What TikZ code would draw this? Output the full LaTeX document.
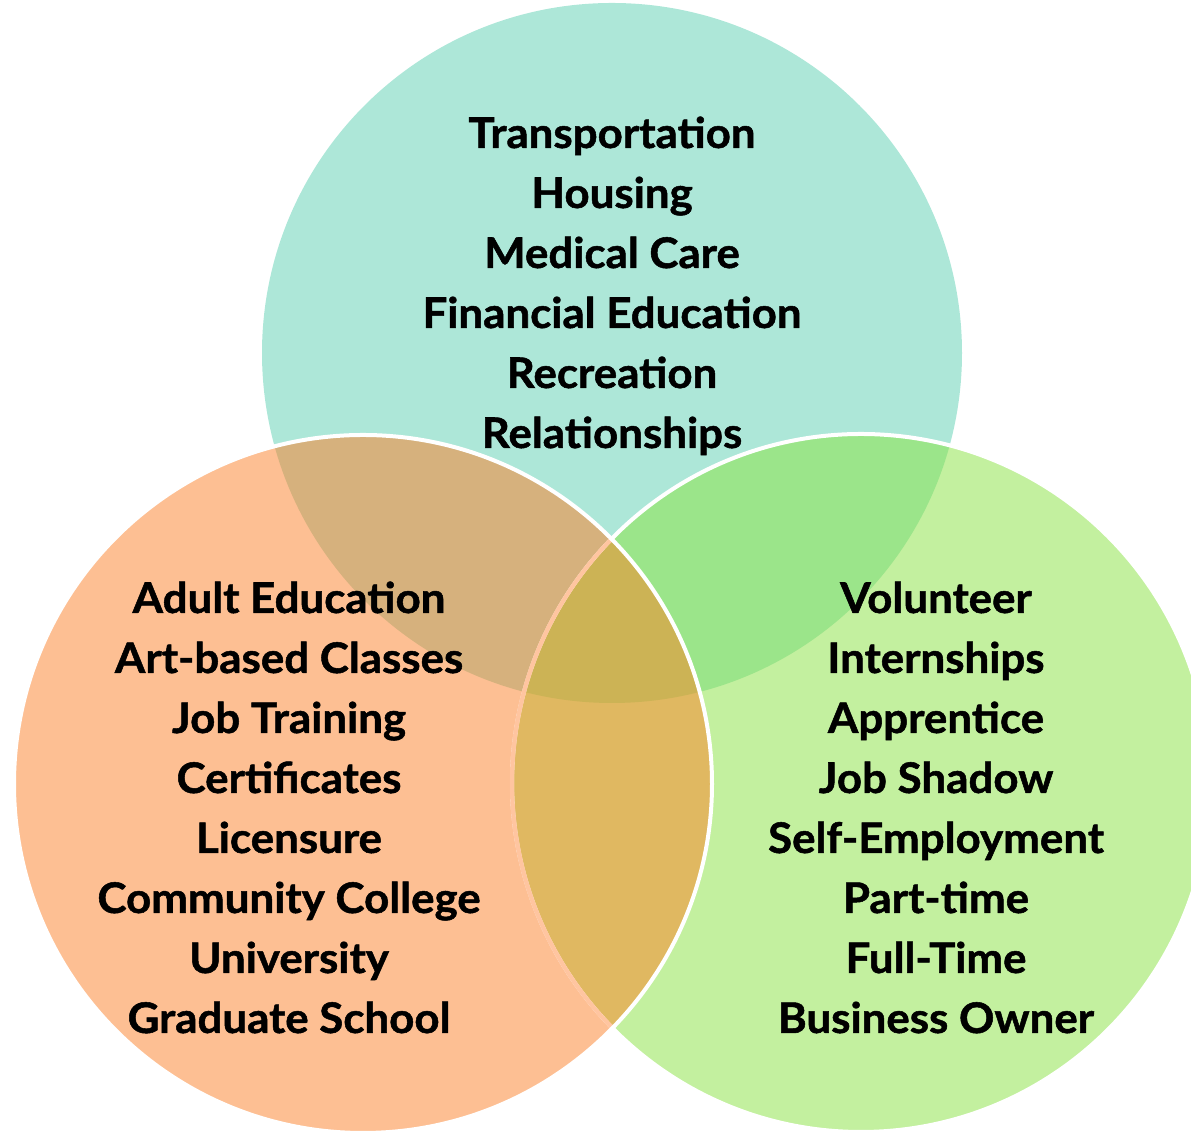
\documentclass[tikz,border=0pt]{standalone}
\usepackage{fontspec}
\setmainfont{Lato}[BoldFeatures={FakeStretch=1.04,FakeBold=1.2}]
\definecolor{cTop}{HTML}{ADE7D8}
\definecolor{cLeft}{HTML}{FDBF93}
\definecolor{cRight}{HTML}{C3F09F}
\definecolor{cTL}{HTML}{D6B17D}
\definecolor{cTR}{HTML}{9BE58A}
\definecolor{cLR}{HTML}{E0B861}
\definecolor{cAll}{HTML}{CCB355}
\definecolor{cPeach}{HTML}{FFC5A0}
\begin{document}
\begin{tikzpicture}[x=0.02cm,y=0.02cm,
  txt/.style={font=\fontsize{24}{28}\selectfont\bfseries, anchor=base, inner sep=0pt, text=black}]
\useasboundingbox (0,0) rectangle (1191,1131);
\clip (0,0) rectangle (1191,1131);
\def\topC{(612,778) circle [radius=350]}
\def\leftC{(363,347) circle [radius=349]}
\def\rightC{(861,348) circle [radius=349]}
% base fills
\fill[cTop] \topC;
\fill[cRight] \rightC;
\fill[cLeft] \leftC;
% overlaps
\begin{scope}\clip \topC; \fill[cTL] \leftC; \end{scope}
\begin{scope}\clip \topC; \fill[cTR] \rightC; \end{scope}
\begin{scope}\clip \leftC; \fill[cLR] \rightC; \end{scope}
\begin{scope}\clip \topC; \clip \leftC; \fill[cAll] \rightC; \end{scope}
% rims
\draw[white,line width=0.08cm] \rightC;
\begin{scope}\clip \leftC; \draw[cPeach,line width=0.085cm] \rightC; \end{scope}
\draw[white,line width=0.08cm] \leftC;
% top texts
\node[txt] (t1) at (612,983) {Transportation};
\node[txt] (t2) at (612,923) {Housing};
\node[txt] (t3) at (612,863) {Medical Care};
\node[txt] (t4) at (612,803) {Financial Education};
\node[txt] (t5) at (612,743) {Recreation};
\node[txt] (t6) at (612,683) {Relationships};
% left texts
\node[txt] (l1) at (289,518) {Adult Education};
\node[txt] (l2) at (289,458) {Art-based Classes};
\node[txt] (l3) at (289,398) {Job Training};
\node[txt] (l4) at (289,338) {Certificates};
\node[txt] (l5) at (289,278) {Licensure};
\node[txt] (l6) at (289,218) {Community College};
\node[txt] (l7) at (289,158) {University};
\node[txt] (l8) at (289,98) {Graduate School};
% right texts
\node[txt] (r1) at (936,518) {Volunteer};
\node[txt] (r2) at (936,458) {Internships};
\node[txt] (r3) at (936,398) {Apprentice};
\node[txt] (r4) at (936,338) {Job Shadow};
\node[txt] (r5) at (936,278) {Self-Employment};
\node[txt] (r6) at (936,218) {Part-time};
\node[txt] (r7) at (936,158) {Full-Time};
\node[txt] (r8) at (936,98) {Business Owner};
\end{tikzpicture}
\end{document}
